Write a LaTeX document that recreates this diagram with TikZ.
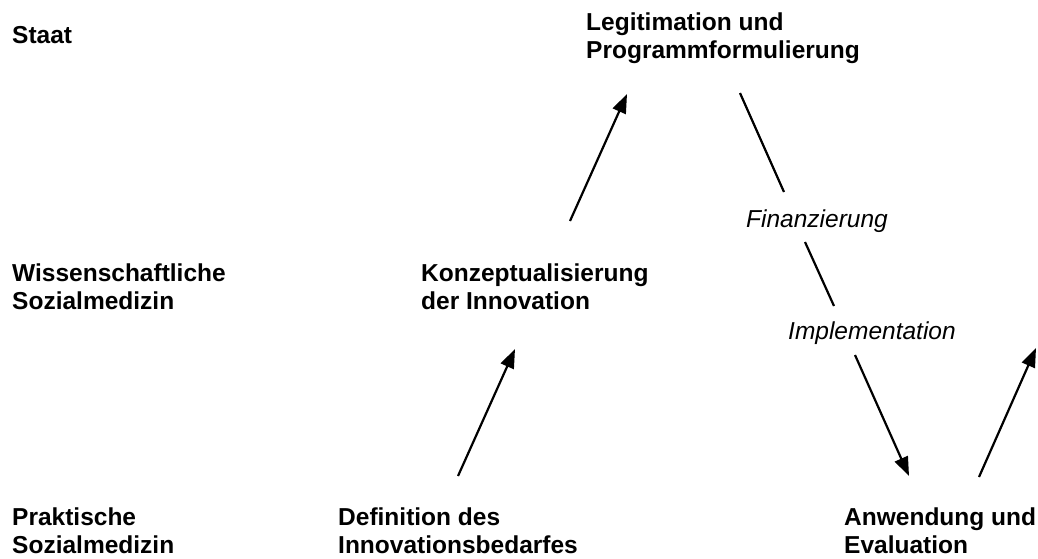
\documentclass[tikz,border=0pt]{standalone}
\usepackage{fontspec}
\setmainfont{Liberation Sans}
\usepackage{tikz}
\usetikzlibrary{arrows.meta}
\newcommand{\lblfont}{\fontsize{24.5}{28}\selectfont}
\tikzset{
  ebene/.style={anchor=base west,inner sep=0pt,align=left,font=\lblfont\bfseries},
  schritt/.style={anchor=base west,inner sep=0pt,align=left,font=\lblfont\itshape},
  pfeil/.style={line width=2.2pt,-{Triangle[length=19pt,width=14pt]}},
  strich/.style={line width=2.2pt}
}

\begin{document}
\begin{tikzpicture}[x=1pt,y=-1pt]
    \useasboundingbox (0,0) rectangle (1038,558);

    % Levels on the left (base = last line)
    \node[ebene] (staat) at (12,43) {Staat};
    \node[ebene] (wiss) at (12,309) {Wissenschaftliche\\Sozialmedizin};
    \node[ebene] (prakt) at (12,553) {Praktische\\Sozialmedizin};

    % Steps of the cycle
    \node[ebene] (def) at (338,553) {Definition des\\Innovationsbedarfes};
    \node[ebene] (konz) at (421,309) {Konzeptualisierung\\der Innovation};
    \node[ebene] (legit) at (586,58) {Legitimation und\\Programmformulierung};
    \node[ebene] (anw) at (844,553) {Anwendung und\\Evaluation};

    % Labels on the way down
    \node[schritt] (fin) at (746,227) {Finanzierung};
    \node[schritt] (impl) at (788,339) {Implementation};

    % Ends of the connectors
    \coordinate (A1) at (458,476);  \coordinate (A2) at (515,349);
    \coordinate (B1) at (570,221);  \coordinate (B2) at (627,94);
    \coordinate (C1) at (740,93);   \coordinate (C2) at (784,192);
    \coordinate (D1) at (805,242);  \coordinate (D2) at (834,306);
    \coordinate (E1) at (855,355);  \coordinate (E2) at (909,476);
    \coordinate (F1) at (979,477);  \coordinate (F2) at (1036,348);

    \draw[pfeil] (A1) -- (A2);
    \draw[pfeil] (B1) -- (B2);
    \draw[strich] (C1) -- (C2);
    \draw[strich] (D1) -- (D2);
    \draw[pfeil] (E1) -- (E2);
    \draw[pfeil] (F1) -- (F2);

\end{tikzpicture}
\end{document}
